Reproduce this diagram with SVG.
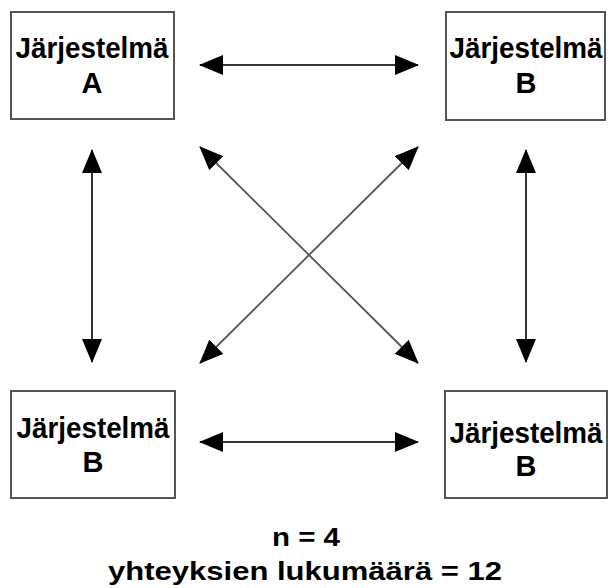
<svg xmlns="http://www.w3.org/2000/svg" width="609" height="588" viewBox="0 0 609 588">
<style>
.box{fill:#fff;stroke:#555;stroke-width:2}
.lbl{font-family:"Liberation Sans",Arial,sans-serif;font-weight:bold;font-size:29px;fill:#000;text-anchor:middle}
.foot{font-family:"Liberation Sans",Arial,sans-serif;font-weight:bold;font-size:26px;fill:#000;text-anchor:middle}
.conn{stroke:#333;stroke-width:2;fill:none;marker-start:url(#ah);marker-end:url(#ah)}
.diag{stroke:#555;stroke-width:1.8;fill:none;marker-start:url(#ah);marker-end:url(#ah)}
</style>
<defs>
<marker id="ah" viewBox="0 0 24 20" refX="23" refY="10" markerWidth="24" markerHeight="20" markerUnits="userSpaceOnUse" orient="auto-start-reverse">
<path d="M0,0 L24,10 L0,20 Z" fill="#000"/>
</marker>
</defs>
<rect width="609" height="588" fill="#fff"/>
<g id="connectors">
<line class="conn" x1="200" y1="65" x2="418" y2="65"/>
<line class="conn" x1="200" y1="442" x2="418" y2="442"/>
<line class="conn" x1="92" y1="150" x2="92" y2="362"/>
<line class="conn" x1="526" y1="150" x2="526" y2="362"/>
<line class="diag" x1="200" y1="147" x2="418" y2="363"/>
<line class="diag" x1="418" y1="147" x2="200" y2="363"/>
</g>
<g id="nodeA">
<rect class="box" x="11" y="12" width="163" height="107"/>
<text class="lbl" x="92" y="58" textLength="153" lengthAdjust="spacingAndGlyphs">Järjestelmä</text>
<text class="lbl" x="92" y="93">A</text>
</g>
<g id="nodeB1">
<rect class="box" x="446" y="12" width="159" height="108"/>
<text class="lbl" x="526" y="58" textLength="153" lengthAdjust="spacingAndGlyphs">Järjestelmä</text>
<text class="lbl" x="526" y="93">B</text>
</g>
<g id="nodeB2">
<rect class="box" x="11" y="391" width="164" height="107"/>
<text class="lbl" x="93" y="438" textLength="153" lengthAdjust="spacingAndGlyphs">Järjestelmä</text>
<text class="lbl" x="93" y="472">B</text>
</g>
<g id="nodeB3">
<rect class="box" x="445" y="391" width="162" height="107"/>
<text class="lbl" x="526" y="443" textLength="153" lengthAdjust="spacingAndGlyphs">Järjestelmä</text>
<text class="lbl" x="526" y="476">B</text>
</g>
<g id="caption">
<text class="foot" x="306" y="546" textLength="68" lengthAdjust="spacingAndGlyphs">n = 4</text>
<text class="foot" x="305" y="580" textLength="394" lengthAdjust="spacingAndGlyphs">yhteyksien lukumäärä = 12</text>
</g>
</svg>
